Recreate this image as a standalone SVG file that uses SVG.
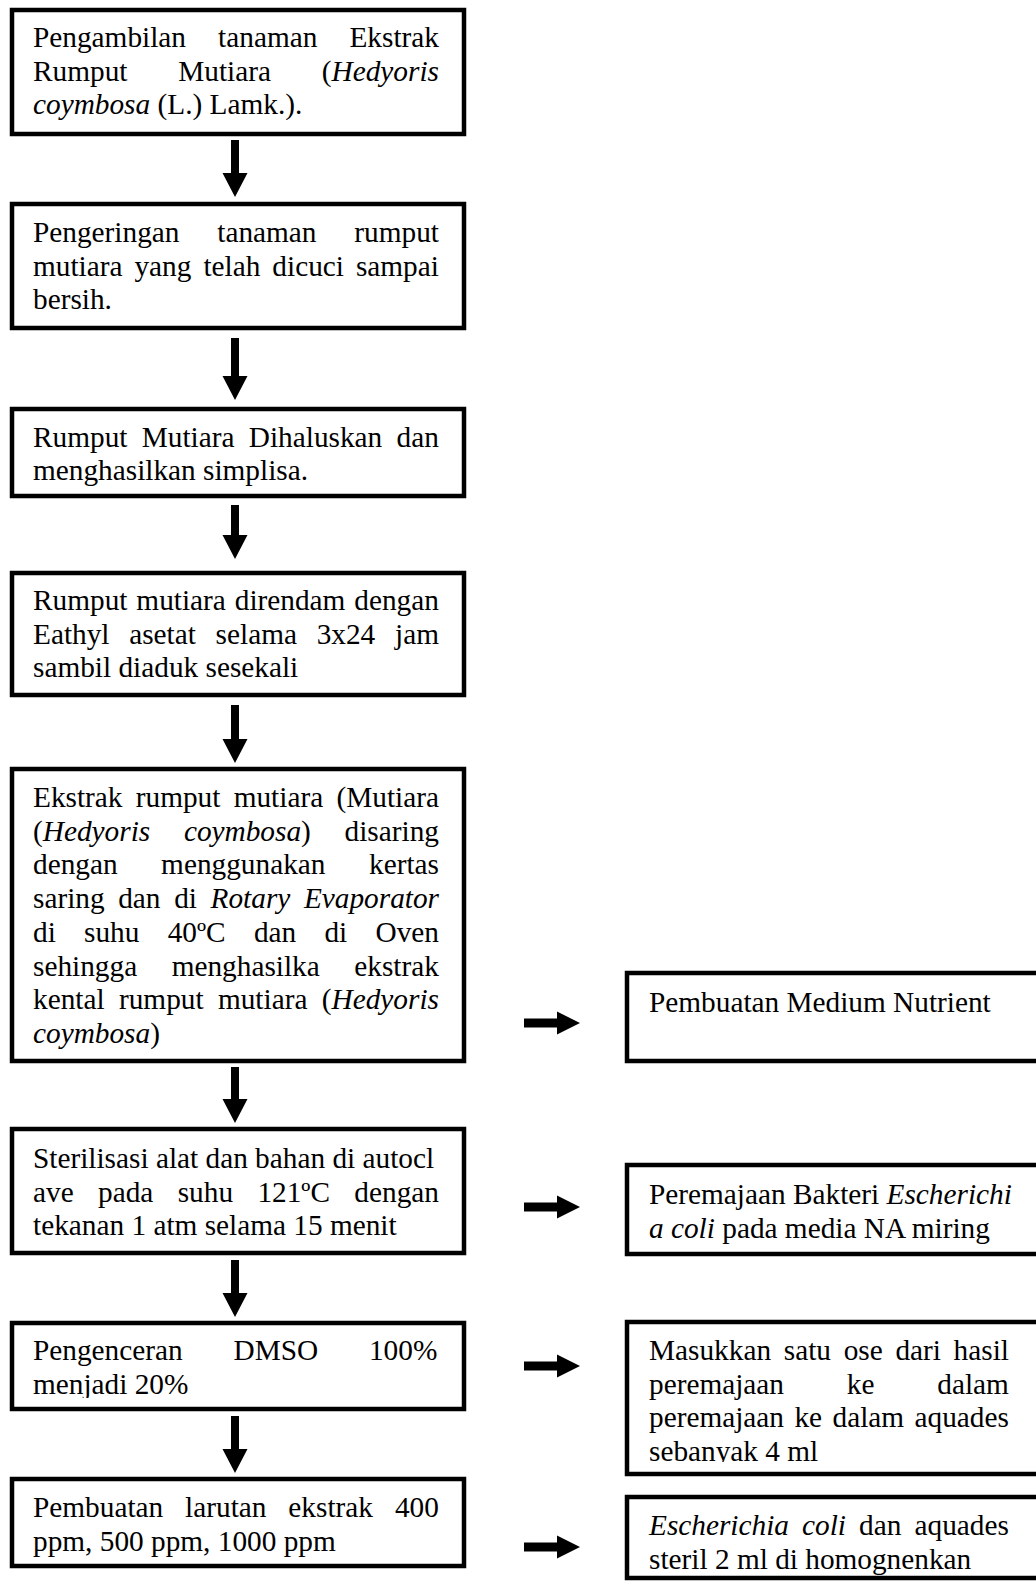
<svg xmlns="http://www.w3.org/2000/svg" width="1036" height="1581" viewBox="0 0 1036 1581">
<style>
.box{fill:#fff;stroke:#000;stroke-width:4.5}
.t{font-family:"Liberation Serif","Times New Roman",serif;font-size:29.3px;fill:#000}
.i{font-style:italic}
.arr{fill:#000}
</style>
<defs>
<clipPath id="c7"><rect x="14" y="1325" width="448" height="73"/></clipPath>
<clipPath id="cr3"><rect x="629" y="1324" width="420" height="138"/></clipPath>
</defs>
<rect width="1036" height="1581" fill="#fff"/>
<g id="node1">
<rect class="box" x="12" y="10" width="452" height="124"/>
<text class="t" x="33" y="47" word-spacing="24.8">Pengambilan tanaman Ekstrak</text>
<text class="t" x="33" y="80.7" word-spacing="43.5">Rumput Mutiara (<tspan class="i">Hedyoris</tspan></text>
<text class="t" x="33" y="114.4"><tspan class="i">coymbosa</tspan> (L.) Lamk.).</text>
</g>
<g id="node2">
<rect class="box" x="12" y="204" width="452" height="124"/>
<text class="t" x="33" y="242" word-spacing="30.5">Pengeringan tanaman rumput</text>
<text class="t" x="33" y="275.7" word-spacing="4.67">mutiara yang telah dicuci sampai</text>
<text class="t" x="33" y="309.4">bersih.</text>
</g>
<g id="node3">
<rect class="box" x="12" y="409" width="452" height="87"/>
<text class="t" x="33" y="446.5" word-spacing="7">Rumput Mutiara Dihaluskan dan</text>
<text class="t" x="33" y="480.2">menghasilkan simplisa.</text>
</g>
<g id="node4">
<rect class="box" x="12" y="573" width="452" height="122"/>
<text class="t" x="33" y="610" word-spacing="1.6">Rumput mutiara direndam dengan</text>
<text class="t" x="33" y="643.7" word-spacing="12.4">Eathyl asetat selama 3x24 jam</text>
<text class="t" x="33" y="677.4">sambil diaduk sesekali</text>
</g>
<g id="node5">
<rect class="box" x="12" y="769" width="452" height="292"/>
<text class="t" x="33" y="807" word-spacing="5.95">Ekstrak rumput mutiara (Mutiara</text>
<text class="t" x="33" y="840.7" word-spacing="26.4">(<tspan class="i">Hedyoris coymbosa</tspan>) disaring</text>
<text class="t" x="33" y="874.4" word-spacing="36.2">dengan menggunakan kertas</text>
<text class="t" x="33" y="908.1" word-spacing="6.3">saring dan di <tspan class="i">Rotary Evaporator</tspan></text>
<text class="t" x="33" y="941.8" word-spacing="20.95">di suhu 40ºC dan di Oven</text>
<text class="t" x="33" y="975.5" word-spacing="27.2">sehingga menghasilka ekstrak</text>
<text class="t" x="33" y="1009.2" word-spacing="7.03">kental rumput mutiara (<tspan class="i">Hedyoris</tspan></text>
<text class="t" x="33" y="1042.9"><tspan class="i">coymbosa</tspan>)</text>
</g>
<g id="node6">
<rect class="box" x="12" y="1129" width="452" height="124"/>
<text class="t" x="33" y="1168">Sterilisasi alat dan bahan di autocl</text>
<text class="t" x="33" y="1201.7" word-spacing="17.05">ave pada suhu 121ºC dengan</text>
<text class="t" x="33" y="1235.4">tekanan 1 atm selama 15 menit</text>
</g>
<g id="node7">
<rect class="box" x="12" y="1323" width="452" height="86"/>
<text class="t" x="33" y="1360" word-spacing="43.5">Pengenceran DMSO 100%</text>
<text class="t" x="33" y="1393.5" clip-path="url(#c7)">menjadi 20%</text>
</g>
<g id="node8">
<rect class="box" x="12" y="1479" width="452" height="87"/>
<text class="t" x="33" y="1517" word-spacing="14.6">Pembuatan larutan ekstrak 400</text>
<text class="t" x="33" y="1550.7">ppm, 500 ppm, 1000 ppm</text>
</g>
<g id="nodeR1">
<rect class="box" x="627" y="973" width="430" height="88"/>
<text class="t" x="649" y="1012">Pembuatan Medium Nutrient</text>
</g>
<g id="nodeR2">
<rect class="box" x="627" y="1165" width="430" height="89"/>
<text class="t" x="649" y="1204">Peremajaan Bakteri <tspan class="i">Escherichi</tspan></text>
<text class="t" x="649" y="1237.5"><tspan class="i">a coli</tspan> pada media NA miring</text>
</g>
<g id="nodeR3">
<rect class="box" x="627" y="1322" width="430" height="152"/>
<text class="t" x="649" y="1360" word-spacing="5.37">Masukkan satu ose dari hasil</text>
<text class="t" x="649" y="1393.7" word-spacing="55.5">peremajaan ke dalam</text>
<text class="t" x="649" y="1427.4" word-spacing="3.1">peremajaan ke dalam aquades</text>
<text class="t" x="649" y="1461" clip-path="url(#cr3)">sebanyak 4 ml</text>
</g>
<g id="nodeR4">
<rect class="box" x="627" y="1497" width="430" height="81"/>
<text class="t" x="649" y="1535" word-spacing="5.8"><tspan class="i">Escherichia coli</tspan> dan aquades</text>
<text class="t" x="649" y="1568.5">steril 2 ml di homognenkan</text>
</g>
<g id="connectors">
<path class="arr" d="M231,140 H239 V173 H247.5 L235,197 L222.5,173 H231 Z"/>
<path class="arr" d="M231,338 H239 V376 H247.5 L235,400 L222.5,376 H231 Z"/>
<path class="arr" d="M231,505 H239 V535 H247.5 L235,559 L222.5,535 H231 Z"/>
<path class="arr" d="M231,705 H239 V739 H247.5 L235,763 L222.5,739 H231 Z"/>
<path class="arr" d="M231,1067 H239 V1099 H247.5 L235,1123 L222.5,1099 H231 Z"/>
<path class="arr" d="M231,1260 H239 V1293 H247.5 L235,1317 L222.5,1293 H231 Z"/>
<path class="arr" d="M231,1416 H239 V1449 H247.5 L235,1473 L222.5,1449 H231 Z"/>
<path class="arr" d="M524,1018.5 H557 V1011.5 L580,1023 L557,1034.5 V1027.5 H524 Z"/>
<path class="arr" d="M524,1202.5 H557 V1195.5 L580,1207 L557,1218.5 V1211.5 H524 Z"/>
<path class="arr" d="M524,1361.5 H557 V1354.5 L580,1366 L557,1377.5 V1370.5 H524 Z"/>
<path class="arr" d="M524,1542.5 H557 V1535.5 L580,1547 L557,1558.5 V1551.5 H524 Z"/>
</g>
</svg>
